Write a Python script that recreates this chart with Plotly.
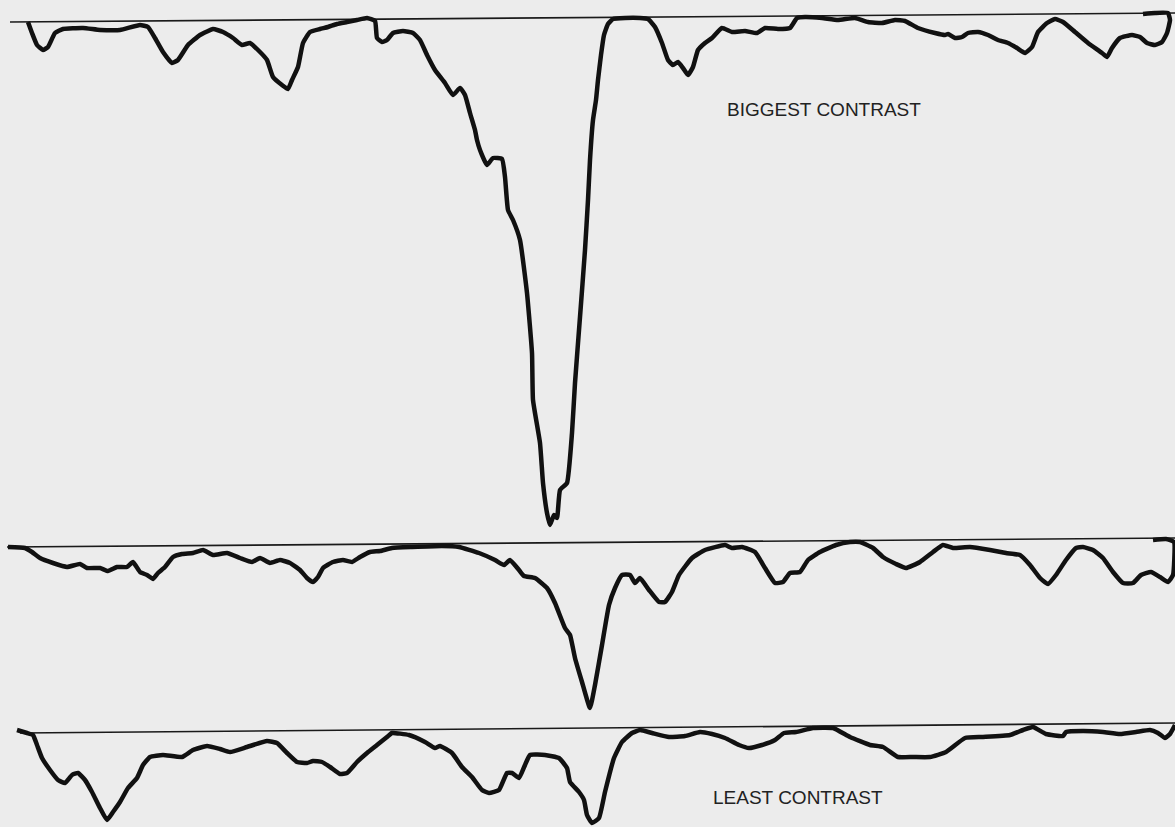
import plotly.graph_objects as go

# Densitometer traces: scan position (x) against trace level (y, drawn downward)

# --- top trace: biggest contrast ---
top_x = [28, 32, 37, 43, 48, 55, 63, 83, 100, 120, 140, 148, 155, 163, 172, 178, 188, 200,
         213, 223, 233, 242, 250, 258, 267, 273, 282, 288, 292, 298, 303, 310, 320, 328, 337,
         347, 357, 367, 375, 377, 382, 387, 393, 403, 413, 420, 427, 435, 445, 453, 460, 465,
         470, 475, 477, 480, 487, 493, 502, 505, 508, 513, 520, 527, 532, 533, 540, 543, 547,
         550, 554, 557, 560, 567, 572, 575, 580, 585, 588, 590, 593, 596, 598, 601, 604, 608,
         613, 625, 640, 648, 655, 662, 668, 673, 678, 683, 688, 693, 698, 705, 712, 722, 732,
         745, 757, 765, 778, 790, 797, 805, 822, 838, 855, 868, 882, 895, 905, 918, 935, 945,
         948, 955, 962, 968, 978, 988, 998, 1008, 1017, 1025, 1032, 1038, 1047, 1055, 1063,
         1075, 1088, 1102, 1107, 1112, 1120, 1132, 1140, 1147, 1155, 1162, 1167, 1170, 1168,
         1155, 1143]
top_y = [22, 33, 45, 50, 47, 33, 29, 28, 30, 30, 25, 27, 38, 52, 63, 60, 45, 35,
         29, 32, 38, 45, 43, 50, 60, 77, 85, 89, 80, 67, 43, 32, 29, 27, 24,
         22, 20, 18, 21, 38, 42, 40, 33, 31, 33, 40, 55, 70, 83, 95, 88, 95,
         113, 130, 140, 150, 165, 158, 159, 177, 210, 220, 240, 293, 353, 400, 443, 483, 513,
         525, 515, 518, 490, 483, 433, 383, 317, 250, 200, 160, 120, 100, 80, 55, 35, 24,
         19, 18, 18, 19, 27, 43, 60, 65, 62, 68, 75, 67, 50, 43, 38, 28, 32,
         31, 33, 28, 29, 28, 18, 17, 18, 20, 18, 22, 23, 20, 21, 28, 33, 35,
         34, 38, 37, 33, 32, 35, 40, 43, 48, 53, 47, 32, 23, 19, 22,
         32, 43, 53, 57, 48, 38, 35, 37, 43, 45, 42, 33, 20, 13,
         13, 14]

# --- middle trace ---
mid_x = [8, 25, 32, 40, 53, 67, 80, 87, 100, 108, 117, 127, 133, 140, 147, 153, 158, 165,
         173, 182, 193, 203, 213, 227, 240, 252, 260, 270, 280, 290, 300, 307, 313, 318, 323,
         333, 343, 352, 360, 370, 380, 392, 412, 442, 459, 479, 495, 504, 510, 519, 524, 535,
         547, 555, 565, 570, 575, 582, 590, 595, 602, 609, 615, 622, 630, 635, 640, 649, 659,
         665, 672, 679, 692, 705, 725, 732, 742, 755, 765, 775, 783, 790, 800, 808, 820, 836,
         850, 860, 873, 883, 896, 906, 920, 933, 943, 953, 970, 990, 1006, 1020, 1030, 1040,
         1048, 1056, 1066, 1076, 1083, 1093, 1103, 1113, 1123, 1133, 1141, 1151, 1160, 1168,
         1173, 1174, 1166, 1153]
mid_y = [547, 548, 552, 558, 563, 567, 564, 568, 568, 571, 567, 567, 562, 572, 575, 579, 573, 567,
         557, 554, 553, 550, 555, 553, 558, 562, 558, 563, 560, 563, 570, 578, 582, 577, 568,
         562, 560, 562, 557, 552, 551, 548, 547, 546, 547, 553, 560, 565, 560, 570, 576, 578,
         588, 603, 628, 635, 658, 682, 708, 685, 645, 605, 588, 575, 575, 583, 578, 590, 602,
         602, 592, 575, 558, 550, 545, 548, 547, 552, 568, 583, 582, 573, 572, 560, 552, 545,
         542, 542, 548, 557, 564, 568, 562, 552, 545, 548, 547, 550, 553, 555, 565, 578,
         584, 575, 560, 548, 547, 550, 558, 572, 583, 583, 575, 572, 577, 582,
         575, 542, 539, 540]

# --- bottom trace: least contrast ---
bot_x = [17, 27, 33, 37, 42, 50, 58, 65, 72, 78, 85, 92, 100, 107, 113, 120, 128, 137, 143,
         150, 163, 182, 193, 207, 220, 230, 247, 267, 277, 287, 297, 307, 313, 322, 330, 340,
         347, 357, 367, 377, 387, 392, 409, 425, 435, 440, 452, 462, 472, 482, 489, 499, 507,
         512, 519, 525, 530, 545, 559, 567, 570, 579, 584, 587, 592, 599, 605, 614, 622, 632,
         640, 652, 669, 685, 700, 712, 725, 739, 749, 762, 775, 784, 796, 813, 833, 850, 870,
         883, 898, 913, 930, 946, 965, 983, 1010, 1023, 1033, 1046, 1063, 1066, 1083, 1103,
         1120, 1136, 1150, 1158, 1165, 1170, 1175]
bot_y = [730, 733, 735, 745, 758, 770, 780, 783, 775, 773, 780, 792, 808, 820, 812, 802, 788, 778, 765,
         757, 755, 757, 750, 746, 749, 752, 747, 741, 743, 753, 762, 763, 761, 762, 767, 774,
         773, 762, 753, 745, 737, 733, 735, 742, 748, 746, 753, 767, 777, 790, 793, 790, 773,
         773, 778, 765, 755, 755, 758, 768, 782, 792, 800, 815, 823, 818, 792, 758, 742, 733,
         730, 733, 737, 736, 732, 734, 738, 745, 748, 745, 740, 733, 732, 728, 728, 737, 745,
         747, 757, 757, 757, 752, 738, 737, 735, 730, 727, 734, 736, 732, 731, 732,
         734, 732, 730, 733, 738, 734, 725]

# Reference (zero) lines of each trace, as start/end points
base_x = [[10, 1175], [7, 1175], [20, 1175]]
base_y = [[22, 13], [547, 538], [733, 723]]

labels = ["BIGGEST CONTRAST", "LEAST CONTRAST"]
label_x = [824, 798]
label_y = [109, 797]

fig = go.Figure()

for bx, by in zip(base_x, base_y):
    fig.add_trace(go.Scatter(x=bx, y=by, mode="lines",
                             line=dict(color="#1a1a1a", width=1.6),
                             hoverinfo="skip", showlegend=False))

for tx, ty in [(top_x, top_y), (mid_x, mid_y), (bot_x, bot_y)]:
    fig.add_trace(go.Scatter(x=tx, y=ty, mode="lines",
                             line=dict(color="#111111", width=4.5, shape="spline", smoothing=0.4),
                             showlegend=False))

for t, lx, ly in zip(labels, label_x, label_y):
    fig.add_annotation(x=lx, y=ly, text=t, showarrow=False,
                       font=dict(family="Liberation Sans, Arial, sans-serif", size=19, color="#222222"),
                       xanchor="center", yanchor="middle")

fig.update_xaxes(range=[0, 1175], visible=False, fixedrange=True)
fig.update_yaxes(range=[827, 0], visible=False, fixedrange=True)
fig.update_layout(width=1175, height=827,
                  margin=dict(l=0, r=0, t=0, b=0),
                  paper_bgcolor="#ececec", plot_bgcolor="#ececec")

fig.write_html("out.html", config={"displayModeBar": False})
